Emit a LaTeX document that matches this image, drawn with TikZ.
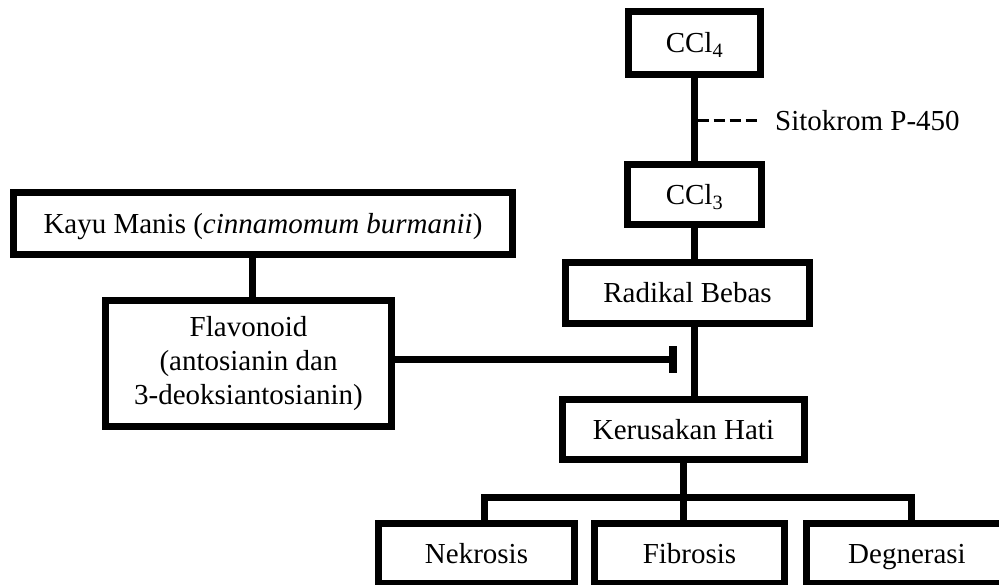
\documentclass[tikz,border=0pt]{standalone}
\usepackage{fontspec}
\setmainfont{Liberation Serif}
\begin{document}
\begin{tikzpicture}[x=1pt,y=-1pt,
  box/.style={draw, line width=7pt, inner sep=0pt, align=center, fill=white,
    font=\fontsize{29}{34}\selectfont},
  single/.style={text height=20pt, text depth=0pt},
  conn/.style={line width=7pt, line join=miter},
  dashline/.style={line width=3pt, dash pattern=on 11pt off 5pt},
  lbl/.style={inner sep=0pt, font=\fontsize{29}{34}\selectfont}]
\useasboundingbox (0,0) rectangle (999,585);
\clip (0,0) rectangle (999,585);
\fill[white] (0,0) rectangle (999,585);
% nodes
\node[box, single, minimum width=132pt, minimum height=63pt] (ccl4) at (694.5,43) {CCl\textsubscript{4}};
\node[box, single, minimum width=134pt, minimum height=60pt] (ccl3) at (694.5,194.5) {CCl\textsubscript{3}};
\node[box, single, minimum width=499pt, minimum height=62pt] (kayu) at (263,223.5) {Kayu Manis (\textit{cinnamomum burmanii})};
\node[box, minimum width=286pt, minimum height=126pt] (flav) at (248.5,363.5) {Flavonoid\\(antosianin dan\\3-deoksiantosianin)};
\node[box, single, minimum width=244pt, minimum height=61pt] (rad) at (687.5,293) {Radikal Bebas};
\node[box, single, minimum width=242pt, minimum height=60pt] (ker) at (683.5,429.5) {Kerusakan Hati};
\node[box, single, minimum width=196pt, minimum height=60pt] (nek) at (476.5,553.5) {Nekrosis};
\node[box, single, minimum width=190pt, minimum height=60pt] (fib) at (689.5,553.5) {Fibrosis};
\node[box, single, minimum width=201pt, minimum height=60pt] (deg) at (907,553.5) {Degnerasi};
\node[lbl, anchor=west] (sito) at (775,121) {Sitokrom P-450};
% coordinates
\coordinate (dA) at (697.5,121);
\coordinate (dB) at (757,121);
\coordinate (inh) at (673,360);
\coordinate (b1) at (484,497);
\coordinate (b3) at (911,497);
\coordinate (kf) at (252,0);
% connectors
\draw[conn] (ccl4.south) -- (ccl3.north);
\draw[dashline] (dA) -- (dB);
\draw[conn] (ccl3.south) -- (ccl3.south |- rad.north);
\draw[conn] (kf |- kayu.south) -- (kf |- flav.north);
\draw[conn] (flav.east |- inh) -- (inh);
\draw[line width=8pt] ([yshift=13.5pt]inh) -- ([yshift=-13.5pt]inh);
\draw[conn] (ccl3.south |- rad.south) -- (ccl3.south |- ker.north);
\draw[conn] (ker.south) -- (ker.south |- fib.north);
\draw[conn] (b1 |- nek.north) -- (b1) -- (b3) -- (b3 |- deg.north);
\end{tikzpicture}
\end{document}
